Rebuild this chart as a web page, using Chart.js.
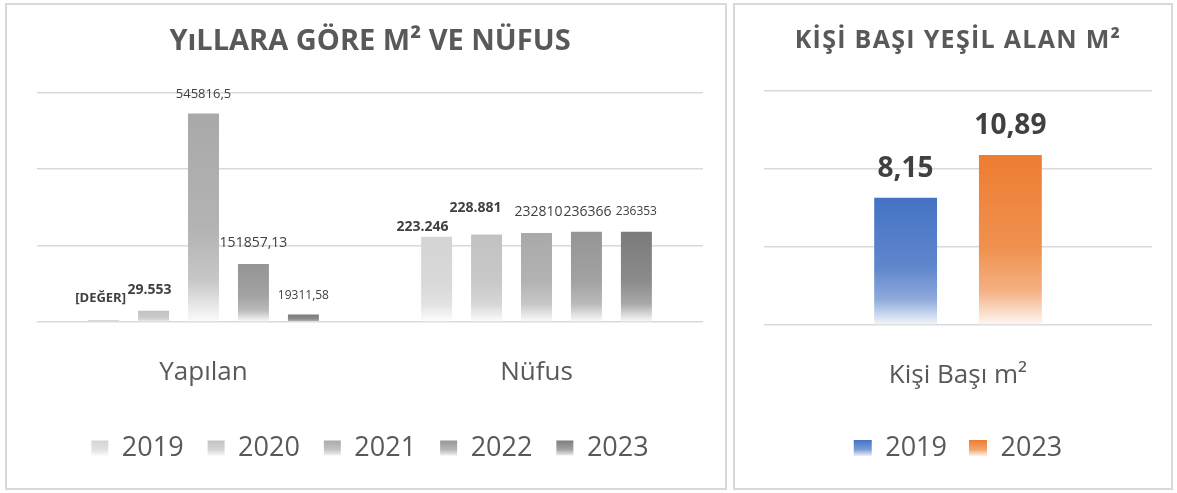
<!DOCTYPE html>
<html lang="tr">
<head>
<meta charset="utf-8">
<title>Yeşil Alan</title>
<script src="https://cdn.jsdelivr.net/npm/chart.js@4.4.1/dist/chart.umd.min.js"></script>
<style>
  html, body { margin: 0; padding: 0; background: #fff; }
  .panel {
    position: absolute;
    top: 3px;
    height: 483px;
    border: 2px solid #d9d9d9;
    background: #fff;
  }
  #leftPanel { left: 5px; width: 718px; }
  #rightPanel { left: 733px; width: 436px; }
  .panel canvas { position: absolute; left: 0; top: 0; }
</style>
</head>
<body>
<div class="panel" id="leftPanel"><canvas id="m2Chart" width="718" height="483"></canvas></div>
<div class="panel" id="rightPanel"><canvas id="perCapitaChart" width="436" height="483"></canvas></div>

<script>
// m² yapılan ve nüfus, yıllara göre
const groups = ['Yapılan', 'Nüfus'];
const years = ['2019', '2020', '2021', '2022', '2023'];
const v2019 = [5000, 223246];
const v2020 = [29553, 228881];
const v2021 = [545816.5, 232810];
const v2022 = [151857.13, 236366];
const v2023 = [19311.58, 236353];
const m2Ticks = [0, 200000, 400000, 600000];

// kişi başı yeşil alan
const perCapitaGroups = ['Kişi Başı m²'];
const perCapitaYears = ['2019', '2023'];
const perCapita2019 = [8.15];
const perCapita2023 = [10.89];
const perCapitaTicks = [0, 5, 10, 15];

const FONT = '"Open Sans", "Noto Sans", sans-serif';
const grays = ['#d4d4d4', '#c2c2c2', '#a9a9a9', '#959595', '#7b7b7b'];
const pcColors = ['#4472c4', '#ed7d31'];

// 'g' -> 29.553 style, 'd' -> 545816,5 style, 'p' -> placeholder
function fmt(v, kind) {
  if (kind === 'p') return '[DEĞER]';
  if (kind === 'g') return String(Math.round(v)).replace(/\B(?=(\d{3})+(?!\d))/g, '.');
  return String(v).replace('.', ',');
}

function tint(hex, t) {
  const n = parseInt(hex.slice(1), 16);
  const mix = c => Math.round(c + (255 - c) * t);
  return `rgb(${mix(n >> 16)}, ${mix((n >> 8) & 255)}, ${mix(n & 255)})`;
}

// vertical fade per bar, from full colour at the top to almost white at the base
function barFill(base, stops) {
  return (ctx) => {
    const chart = ctx.chart;
    const y = chart.scales && chart.scales.y;
    if (!y || ctx.type !== 'data') return base;
    const top = y.getPixelForValue(ctx.raw);
    const bottom = y.getPixelForValue(0);
    if (!isFinite(top) || bottom - top < 1) return base;
    const g = chart.ctx.createLinearGradient(0, top, 0, bottom);
    stops.forEach(([at, t]) => g.addColorStop(at, tint(base, t)));
    return g;
  };
}

// legend swatches get the same fade; text centre sits padding + fontSize/2 below legend top
function legendLabels(colors, stops) {
  return (chart) => {
    const items = Chart.defaults.plugins.legend.labels.generateLabels(chart);
    const lg = chart.legend;
    if (!lg || lg.top == null) return items;
    const lo = lg.options.labels;
    const cy = lg.top + lo.padding + lo.font.size / 2;
    items.forEach(it => {
      const g = chart.ctx.createLinearGradient(0, cy - 8, 0, cy + 8);
      stops.forEach(([at, t]) => g.addColorStop(at, tint(colors[it.datasetIndex], t)));
      it.fillStyle = g;
      it.strokeStyle = 'rgba(0,0,0,0)';
      it.lineWidth = 0;
    });
    return items;
  };
}

// value labels above the bars
const valueLabels = {
  id: 'valueLabels',
  afterDatasetsDraw(chart, args, opts) {
    const ctx = chart.ctx;
    chart.data.datasets.forEach((ds, i) => {
      const meta = chart.getDatasetMeta(i);
      meta.data.forEach((bar, j) => {
        const st = opts.styles[i][j];
        ctx.save();
        ctx.font = `${st.bold ? 'bold ' : ''}${st.size}px ${FONT}`;
        ctx.fillStyle = '#404040';
        ctx.textAlign = 'center';
        ctx.textBaseline = 'middle';
        ctx.fillText(fmt(ds.data[j], st.kind), bar.x + (st.dx || 0), bar.y - st.lift);
        ctx.restore();
      });
    });
  }
};

// spaced-out title text
const titleSpacing = {
  id: 'titleSpacing',
  beforeDraw(chart, args, opts) {
    const t = chart.titleBlock;
    if (!t || t._spaced) return;
    const draw = t.draw.bind(t);
    t.draw = () => {
      chart.ctx.letterSpacing = opts.spacing + 'px';
      draw();
      chart.ctx.letterSpacing = '0px';
    };
    t._spaced = true;
  }
};

const barStops = [[0, 0], [0.55, 0.12], [0.8, 0.35], [1, 0.97]];

const m2Series = [v2019, v2020, v2021, v2022, v2023];
const m2LabelStyles = [
  [{ kind: 'p', bold: true, size: 13, lift: 22, dx: -3 }, { kind: 'g', bold: true, size: 14, lift: 10, dx: -14 }],
  [{ kind: 'g', bold: true, size: 14, lift: 21, dx: -4 }, { kind: 'g', bold: true, size: 14, lift: 27, dx: -11 }],
  [{ kind: 'd', size: 13, lift: 19, dx: 0 }, { kind: 'd', size: 14, lift: 21, dx: 2 }],
  [{ kind: 'd', size: 14, lift: 21, dx: 0 }, { kind: 'd', size: 14, lift: 20, dx: 1 }],
  [{ kind: 'd', size: 12, lift: 19, dx: 0 }, { kind: 'd', size: 12, lift: 20, dx: 0 }]
];

new Chart(document.getElementById('m2Chart'), {
  type: 'bar',
  data: {
    labels: groups,
    datasets: years.map((yr, i) => ({
      label: yr,
      data: m2Series[i],
      backgroundColor: barFill(grays[i], barStops),
      categoryPercentage: 0.75,
      barPercentage: 0.62
    }))
  },
  options: {
    responsive: false,
    animation: false,
    layout: { padding: { left: 30, right: 22, top: 0, bottom: 16.5 } },
    scales: {
      x: {
        grid: { display: false, drawTicks: false },
        border: { display: false },
        ticks: { color: '#595959', font: { family: FONT, size: 26 }, padding: 35 },
        afterFit: s => { s.height = 88.5; }
      },
      y: {
        min: m2Ticks[0],
        max: m2Ticks[m2Ticks.length - 1],
        afterBuildTicks: s => { s.ticks = m2Ticks.map(v => ({ value: v })); },
        grid: { color: '#d9d9d9', lineWidth: 1.5, drawTicks: false },
        border: { display: false },
        ticks: { display: false }
      }
    },
    plugins: {
      title: {
        display: true,
        text: 'YıLLARA GÖRE M² VE NÜFUS',
        color: '#595959',
        font: { family: FONT, size: 29, weight: 'bold', lineHeight: 1.2 },
        padding: { top: 19, bottom: 34 }
      },
      legend: {
        position: 'bottom',
        labels: {
          color: '#595959',
          font: { family: FONT, size: 27 },
          boxWidth: 17,
          boxHeight: 15,
          padding: 24,
          generateLabels: legendLabels(grays, [[0, 0], [0.6, 0.3], [1, 0.9]])
        }
      },
      tooltip: { enabled: false },
      valueLabels: { styles: m2LabelStyles },
      titleSpacing: { spacing: 0 }
    }
  },
  plugins: [valueLabels, titleSpacing]
});

const pcSeries = [perCapita2019, perCapita2023];
const pcLabelStyles = [
  [{ kind: 'd', bold: true, size: 28, lift: 29 }],
  [{ kind: 'd', bold: true, size: 28, lift: 29 }]
];

new Chart(document.getElementById('perCapitaChart'), {
  type: 'bar',
  data: {
    labels: perCapitaGroups,
    datasets: perCapitaYears.map((yr, i) => ({
      label: yr,
      data: pcSeries[i],
      backgroundColor: barFill(pcColors[i], [[0, 0], [0.55, 0.15], [0.8, 0.4], [1, 0.94]]),
      categoryPercentage: 0.54,
      barPercentage: 0.6
    }))
  },
  options: {
    responsive: false,
    animation: false,
    layout: { padding: { left: 29, right: 19, top: 0, bottom: 16.5 } },
    scales: {
      x: {
        grid: { display: false, drawTicks: false },
        border: { display: false },
        ticks: { color: '#595959', font: { family: FONT, size: 26 }, padding: 35 },
        afterFit: s => { s.height = 87.5; }
      },
      y: {
        min: perCapitaTicks[0],
        max: perCapitaTicks[perCapitaTicks.length - 1],
        afterBuildTicks: s => { s.ticks = perCapitaTicks.map(v => ({ value: v })); },
        grid: { color: '#d9d9d9', lineWidth: 1.5, drawTicks: false },
        border: { display: false },
        ticks: { display: false }
      }
    },
    plugins: {
      title: {
        display: true,
        text: 'KİŞİ BAŞI YEŞİL ALAN M²',
        color: '#595959',
        font: { family: FONT, size: 25, weight: 'bold', lineHeight: 1.2 },
        padding: { top: 21, bottom: 35 }
      },
      legend: {
        position: 'bottom',
        labels: {
          color: '#595959',
          font: { family: FONT, size: 27 },
          boxWidth: 18,
          boxHeight: 16,
          padding: 22,
          generateLabels: legendLabels(pcColors, [[0, 0], [0.6, 0.3], [1, 0.9]])
        }
      },
      tooltip: { enabled: false },
      valueLabels: { styles: pcLabelStyles },
      titleSpacing: { spacing: 1.3 }
    }
  },
  plugins: [valueLabels, titleSpacing]
});
</script>
</body>
</html>
